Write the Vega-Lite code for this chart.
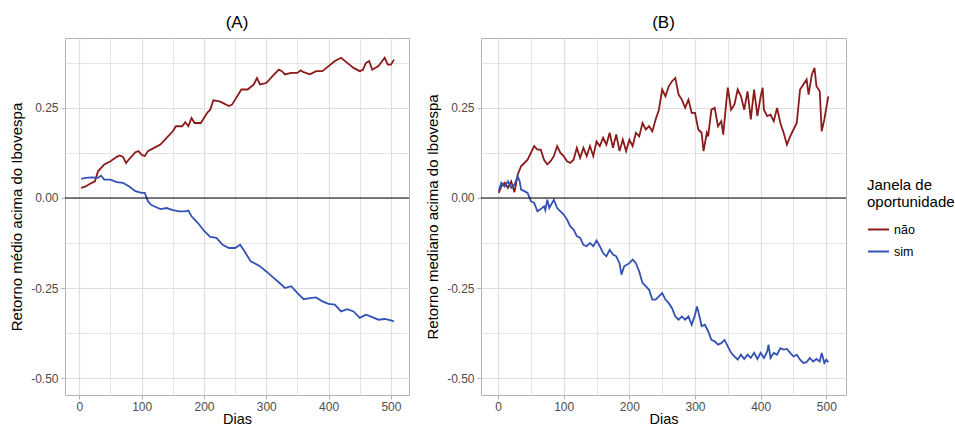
{
  "$schema": "https://vega.github.io/schema/vega-lite/v6.json",
  "padding": {"left": 9, "top": 13, "right": 5, "bottom": 0},
  "background": "white",
  "datasets": {
    "media": [
      {"dia": 3, "janela": "não", "retorno": 0.028}, {"dia": 10, "janela": "não", "retorno": 0.032}, {"dia": 20, "janela": "não", "retorno": 0.042}, {"dia": 25, "janela": "não", "retorno": 0.046},
      {"dia": 30, "janela": "não", "retorno": 0.074}, {"dia": 40, "janela": "não", "retorno": 0.093}, {"dia": 50, "janela": "não", "retorno": 0.102}, {"dia": 60, "janela": "não", "retorno": 0.114},
      {"dia": 65, "janela": "não", "retorno": 0.118}, {"dia": 70, "janela": "não", "retorno": 0.114}, {"dia": 75, "janela": "não", "retorno": 0.097}, {"dia": 80, "janela": "não", "retorno": 0.108},
      {"dia": 90, "janela": "não", "retorno": 0.127}, {"dia": 95, "janela": "não", "retorno": 0.13}, {"dia": 100, "janela": "não", "retorno": 0.12}, {"dia": 105, "janela": "não", "retorno": 0.116},
      {"dia": 110, "janela": "não", "retorno": 0.13}, {"dia": 120, "janela": "não", "retorno": 0.139}, {"dia": 130, "janela": "não", "retorno": 0.148}, {"dia": 140, "janela": "não", "retorno": 0.167},
      {"dia": 150, "janela": "não", "retorno": 0.185}, {"dia": 155, "janela": "não", "retorno": 0.199}, {"dia": 165, "janela": "não", "retorno": 0.199}, {"dia": 170, "janela": "não", "retorno": 0.21},
      {"dia": 175, "janela": "não", "retorno": 0.199}, {"dia": 180, "janela": "não", "retorno": 0.222}, {"dia": 185, "janela": "não", "retorno": 0.208}, {"dia": 195, "janela": "não", "retorno": 0.208},
      {"dia": 200, "janela": "não", "retorno": 0.222}, {"dia": 205, "janela": "não", "retorno": 0.236}, {"dia": 210, "janela": "não", "retorno": 0.245}, {"dia": 215, "janela": "não", "retorno": 0.271},
      {"dia": 225, "janela": "não", "retorno": 0.268}, {"dia": 230, "janela": "não", "retorno": 0.264}, {"dia": 240, "janela": "não", "retorno": 0.255}, {"dia": 245, "janela": "não", "retorno": 0.259},
      {"dia": 250, "janela": "não", "retorno": 0.273}, {"dia": 260, "janela": "não", "retorno": 0.301}, {"dia": 270, "janela": "não", "retorno": 0.301}, {"dia": 280, "janela": "não", "retorno": 0.315},
      {"dia": 285, "janela": "não", "retorno": 0.333}, {"dia": 290, "janela": "não", "retorno": 0.315}, {"dia": 300, "janela": "não", "retorno": 0.319}, {"dia": 310, "janela": "não", "retorno": 0.338},
      {"dia": 320, "janela": "não", "retorno": 0.356}, {"dia": 325, "janela": "não", "retorno": 0.352}, {"dia": 330, "janela": "não", "retorno": 0.343}, {"dia": 340, "janela": "não", "retorno": 0.347},
      {"dia": 350, "janela": "não", "retorno": 0.347}, {"dia": 355, "janela": "não", "retorno": 0.354}, {"dia": 360, "janela": "não", "retorno": 0.349}, {"dia": 370, "janela": "não", "retorno": 0.343},
      {"dia": 380, "janela": "não", "retorno": 0.352}, {"dia": 390, "janela": "não", "retorno": 0.352}, {"dia": 400, "janela": "não", "retorno": 0.366}, {"dia": 410, "janela": "não", "retorno": 0.38},
      {"dia": 420, "janela": "não", "retorno": 0.389}, {"dia": 430, "janela": "não", "retorno": 0.375}, {"dia": 440, "janela": "não", "retorno": 0.361}, {"dia": 450, "janela": "não", "retorno": 0.352},
      {"dia": 455, "janela": "não", "retorno": 0.356}, {"dia": 460, "janela": "não", "retorno": 0.375}, {"dia": 465, "janela": "não", "retorno": 0.38}, {"dia": 470, "janela": "não", "retorno": 0.356},
      {"dia": 480, "janela": "não", "retorno": 0.366}, {"dia": 490, "janela": "não", "retorno": 0.389}, {"dia": 495, "janela": "não", "retorno": 0.37}, {"dia": 500, "janela": "não", "retorno": 0.37},
      {"dia": 505, "janela": "não", "retorno": 0.384},
      {"dia": 3, "janela": "sim", "retorno": 0.053}, {"dia": 10, "janela": "sim", "retorno": 0.056}, {"dia": 20, "janela": "sim", "retorno": 0.057}, {"dia": 30, "janela": "sim", "retorno": 0.056},
      {"dia": 35, "janela": "sim", "retorno": 0.062}, {"dia": 40, "janela": "sim", "retorno": 0.051}, {"dia": 50, "janela": "sim", "retorno": 0.051}, {"dia": 60, "janela": "sim", "retorno": 0.044},
      {"dia": 70, "janela": "sim", "retorno": 0.042}, {"dia": 80, "janela": "sim", "retorno": 0.032}, {"dia": 90, "janela": "sim", "retorno": 0.019}, {"dia": 100, "janela": "sim", "retorno": 0.014},
      {"dia": 105, "janela": "sim", "retorno": 0.014}, {"dia": 110, "janela": "sim", "retorno": -0.009}, {"dia": 115, "janela": "sim", "retorno": -0.019}, {"dia": 120, "janela": "sim", "retorno": -0.023},
      {"dia": 130, "janela": "sim", "retorno": -0.031}, {"dia": 140, "janela": "sim", "retorno": -0.028}, {"dia": 150, "janela": "sim", "retorno": -0.034}, {"dia": 160, "janela": "sim", "retorno": -0.037},
      {"dia": 170, "janela": "sim", "retorno": -0.037}, {"dia": 175, "janela": "sim", "retorno": -0.035}, {"dia": 180, "janela": "sim", "retorno": -0.051}, {"dia": 190, "janela": "sim", "retorno": -0.069},
      {"dia": 200, "janela": "sim", "retorno": -0.091}, {"dia": 210, "janela": "sim", "retorno": -0.108}, {"dia": 220, "janela": "sim", "retorno": -0.111}, {"dia": 230, "janela": "sim", "retorno": -0.13},
      {"dia": 240, "janela": "sim", "retorno": -0.139}, {"dia": 250, "janela": "sim", "retorno": -0.139}, {"dia": 258, "janela": "sim", "retorno": -0.13}, {"dia": 265, "janela": "sim", "retorno": -0.148},
      {"dia": 275, "janela": "sim", "retorno": -0.176}, {"dia": 285, "janela": "sim", "retorno": -0.185}, {"dia": 290, "janela": "sim", "retorno": -0.19}, {"dia": 300, "janela": "sim", "retorno": -0.204},
      {"dia": 310, "janela": "sim", "retorno": -0.219}, {"dia": 320, "janela": "sim", "retorno": -0.234}, {"dia": 330, "janela": "sim", "retorno": -0.25}, {"dia": 340, "janela": "sim", "retorno": -0.245},
      {"dia": 350, "janela": "sim", "retorno": -0.264}, {"dia": 360, "janela": "sim", "retorno": -0.281}, {"dia": 370, "janela": "sim", "retorno": -0.278}, {"dia": 380, "janela": "sim", "retorno": -0.276},
      {"dia": 390, "janela": "sim", "retorno": -0.287}, {"dia": 400, "janela": "sim", "retorno": -0.294}, {"dia": 410, "janela": "sim", "retorno": -0.296}, {"dia": 420, "janela": "sim", "retorno": -0.315},
      {"dia": 430, "janela": "sim", "retorno": -0.309}, {"dia": 440, "janela": "sim", "retorno": -0.315}, {"dia": 450, "janela": "sim", "retorno": -0.333}, {"dia": 460, "janela": "sim", "retorno": -0.324},
      {"dia": 470, "janela": "sim", "retorno": -0.331}, {"dia": 480, "janela": "sim", "retorno": -0.338}, {"dia": 490, "janela": "sim", "retorno": -0.336}, {"dia": 500, "janela": "sim", "retorno": -0.34},
      {"dia": 505, "janela": "sim", "retorno": -0.343}
    ],
    "mediana": [
      {"dia": 1, "janela": "não", "retorno": 0.014}, {"dia": 5, "janela": "não", "retorno": 0.032}, {"dia": 10, "janela": "não", "retorno": 0.042}, {"dia": 15, "janela": "não", "retorno": 0.028},
      {"dia": 20, "janela": "não", "retorno": 0.046}, {"dia": 25, "janela": "não", "retorno": 0.016}, {"dia": 30, "janela": "não", "retorno": 0.065}, {"dia": 35, "janela": "não", "retorno": 0.088},
      {"dia": 40, "janela": "não", "retorno": 0.097}, {"dia": 45, "janela": "não", "retorno": 0.106}, {"dia": 50, "janela": "não", "retorno": 0.125}, {"dia": 55, "janela": "não", "retorno": 0.144},
      {"dia": 60, "janela": "não", "retorno": 0.134}, {"dia": 65, "janela": "não", "retorno": 0.134}, {"dia": 70, "janela": "não", "retorno": 0.106}, {"dia": 75, "janela": "não", "retorno": 0.093},
      {"dia": 80, "janela": "não", "retorno": 0.102}, {"dia": 85, "janela": "não", "retorno": 0.116}, {"dia": 90, "janela": "não", "retorno": 0.144}, {"dia": 95, "janela": "não", "retorno": 0.125},
      {"dia": 100, "janela": "não", "retorno": 0.116}, {"dia": 105, "janela": "não", "retorno": 0.102}, {"dia": 110, "janela": "não", "retorno": 0.097}, {"dia": 115, "janela": "não", "retorno": 0.106},
      {"dia": 120, "janela": "não", "retorno": 0.139}, {"dia": 125, "janela": "não", "retorno": 0.111}, {"dia": 130, "janela": "não", "retorno": 0.139}, {"dia": 135, "janela": "não", "retorno": 0.116},
      {"dia": 140, "janela": "não", "retorno": 0.144}, {"dia": 145, "janela": "não", "retorno": 0.116}, {"dia": 150, "janela": "não", "retorno": 0.157}, {"dia": 155, "janela": "não", "retorno": 0.144},
      {"dia": 160, "janela": "não", "retorno": 0.167}, {"dia": 165, "janela": "não", "retorno": 0.148}, {"dia": 170, "janela": "não", "retorno": 0.181}, {"dia": 175, "janela": "não", "retorno": 0.139},
      {"dia": 180, "janela": "não", "retorno": 0.176}, {"dia": 185, "janela": "não", "retorno": 0.13}, {"dia": 190, "janela": "não", "retorno": 0.162}, {"dia": 195, "janela": "não", "retorno": 0.13},
      {"dia": 200, "janela": "não", "retorno": 0.162}, {"dia": 205, "janela": "não", "retorno": 0.144}, {"dia": 210, "janela": "não", "retorno": 0.181}, {"dia": 215, "janela": "não", "retorno": 0.171},
      {"dia": 220, "janela": "não", "retorno": 0.208}, {"dia": 225, "janela": "não", "retorno": 0.19}, {"dia": 230, "janela": "não", "retorno": 0.199}, {"dia": 235, "janela": "não", "retorno": 0.185},
      {"dia": 240, "janela": "não", "retorno": 0.218}, {"dia": 245, "janela": "não", "retorno": 0.245}, {"dia": 250, "janela": "não", "retorno": 0.301}, {"dia": 255, "janela": "não", "retorno": 0.282},
      {"dia": 260, "janela": "não", "retorno": 0.31}, {"dia": 265, "janela": "não", "retorno": 0.324}, {"dia": 270, "janela": "não", "retorno": 0.333}, {"dia": 275, "janela": "não", "retorno": 0.287},
      {"dia": 280, "janela": "não", "retorno": 0.273}, {"dia": 285, "janela": "não", "retorno": 0.25}, {"dia": 290, "janela": "não", "retorno": 0.273}, {"dia": 295, "janela": "não", "retorno": 0.236},
      {"dia": 300, "janela": "não", "retorno": 0.236}, {"dia": 305, "janela": "não", "retorno": 0.19}, {"dia": 310, "janela": "não", "retorno": 0.181}, {"dia": 313, "janela": "não", "retorno": 0.13},
      {"dia": 318, "janela": "não", "retorno": 0.181}, {"dia": 320, "janela": "não", "retorno": 0.171}, {"dia": 325, "janela": "não", "retorno": 0.245}, {"dia": 330, "janela": "não", "retorno": 0.25},
      {"dia": 335, "janela": "não", "retorno": 0.199}, {"dia": 340, "janela": "não", "retorno": 0.213}, {"dia": 343, "janela": "não", "retorno": 0.176}, {"dia": 348, "janela": "não", "retorno": 0.273},
      {"dia": 350, "janela": "não", "retorno": 0.306}, {"dia": 355, "janela": "não", "retorno": 0.245}, {"dia": 360, "janela": "não", "retorno": 0.259}, {"dia": 365, "janela": "não", "retorno": 0.301},
      {"dia": 370, "janela": "não", "retorno": 0.282}, {"dia": 375, "janela": "não", "retorno": 0.245}, {"dia": 380, "janela": "não", "retorno": 0.296}, {"dia": 385, "janela": "não", "retorno": 0.218},
      {"dia": 390, "janela": "não", "retorno": 0.301}, {"dia": 395, "janela": "não", "retorno": 0.227}, {"dia": 400, "janela": "não", "retorno": 0.282}, {"dia": 403, "janela": "não", "retorno": 0.306},
      {"dia": 405, "janela": "não", "retorno": 0.245}, {"dia": 410, "janela": "não", "retorno": 0.227}, {"dia": 415, "janela": "não", "retorno": 0.231}, {"dia": 420, "janela": "não", "retorno": 0.213},
      {"dia": 425, "janela": "não", "retorno": 0.25}, {"dia": 430, "janela": "não", "retorno": 0.208}, {"dia": 435, "janela": "não", "retorno": 0.181}, {"dia": 440, "janela": "não", "retorno": 0.148},
      {"dia": 445, "janela": "não", "retorno": 0.171}, {"dia": 450, "janela": "não", "retorno": 0.19}, {"dia": 455, "janela": "não", "retorno": 0.208}, {"dia": 460, "janela": "não", "retorno": 0.301},
      {"dia": 465, "janela": "não", "retorno": 0.315}, {"dia": 470, "janela": "não", "retorno": 0.329}, {"dia": 473, "janela": "não", "retorno": 0.287}, {"dia": 478, "janela": "não", "retorno": 0.343},
      {"dia": 482, "janela": "não", "retorno": 0.361}, {"dia": 485, "janela": "não", "retorno": 0.31}, {"dia": 490, "janela": "não", "retorno": 0.296}, {"dia": 493, "janela": "não", "retorno": 0.185},
      {"dia": 497, "janela": "não", "retorno": 0.218}, {"dia": 500, "janela": "não", "retorno": 0.25}, {"dia": 503, "janela": "não", "retorno": 0.282},
      {"dia": 1, "janela": "sim", "retorno": 0.019}, {"dia": 5, "janela": "sim", "retorno": 0.042}, {"dia": 10, "janela": "sim", "retorno": 0.032}, {"dia": 15, "janela": "sim", "retorno": 0.046},
      {"dia": 20, "janela": "sim", "retorno": 0.028}, {"dia": 25, "janela": "sim", "retorno": 0.037}, {"dia": 30, "janela": "sim", "retorno": 0.06}, {"dia": 33, "janela": "sim", "retorno": 0.046},
      {"dia": 35, "janela": "sim", "retorno": 0.023}, {"dia": 40, "janela": "sim", "retorno": 0.019}, {"dia": 45, "janela": "sim", "retorno": 0.014}, {"dia": 50, "janela": "sim", "retorno": -0.009},
      {"dia": 55, "janela": "sim", "retorno": -0.014}, {"dia": 60, "janela": "sim", "retorno": -0.037}, {"dia": 65, "janela": "sim", "retorno": -0.031}, {"dia": 70, "janela": "sim", "retorno": -0.023},
      {"dia": 72, "janela": "sim", "retorno": -0.034}, {"dia": 75, "janela": "sim", "retorno": -0.005}, {"dia": 78, "janela": "sim", "retorno": -0.028}, {"dia": 85, "janela": "sim", "retorno": -0.005},
      {"dia": 90, "janela": "sim", "retorno": -0.028}, {"dia": 95, "janela": "sim", "retorno": -0.037}, {"dia": 100, "janela": "sim", "retorno": -0.046}, {"dia": 105, "janela": "sim", "retorno": -0.06},
      {"dia": 110, "janela": "sim", "retorno": -0.079}, {"dia": 115, "janela": "sim", "retorno": -0.088}, {"dia": 120, "janela": "sim", "retorno": -0.106}, {"dia": 125, "janela": "sim", "retorno": -0.111},
      {"dia": 130, "janela": "sim", "retorno": -0.13}, {"dia": 135, "janela": "sim", "retorno": -0.134}, {"dia": 140, "janela": "sim", "retorno": -0.125}, {"dia": 145, "janela": "sim", "retorno": -0.134},
      {"dia": 150, "janela": "sim", "retorno": -0.118}, {"dia": 155, "janela": "sim", "retorno": -0.134}, {"dia": 160, "janela": "sim", "retorno": -0.153}, {"dia": 165, "janela": "sim", "retorno": -0.162},
      {"dia": 170, "janela": "sim", "retorno": -0.144}, {"dia": 175, "janela": "sim", "retorno": -0.157}, {"dia": 180, "janela": "sim", "retorno": -0.162}, {"dia": 185, "janela": "sim", "retorno": -0.181},
      {"dia": 188, "janela": "sim", "retorno": -0.213}, {"dia": 192, "janela": "sim", "retorno": -0.19}, {"dia": 200, "janela": "sim", "retorno": -0.181}, {"dia": 205, "janela": "sim", "retorno": -0.171},
      {"dia": 210, "janela": "sim", "retorno": -0.181}, {"dia": 215, "janela": "sim", "retorno": -0.204}, {"dia": 220, "janela": "sim", "retorno": -0.236}, {"dia": 225, "janela": "sim", "retorno": -0.245},
      {"dia": 230, "janela": "sim", "retorno": -0.255}, {"dia": 235, "janela": "sim", "retorno": -0.282}, {"dia": 240, "janela": "sim", "retorno": -0.282}, {"dia": 245, "janela": "sim", "retorno": -0.273},
      {"dia": 250, "janela": "sim", "retorno": -0.264}, {"dia": 255, "janela": "sim", "retorno": -0.282}, {"dia": 260, "janela": "sim", "retorno": -0.292}, {"dia": 265, "janela": "sim", "retorno": -0.306},
      {"dia": 270, "janela": "sim", "retorno": -0.329}, {"dia": 275, "janela": "sim", "retorno": -0.338}, {"dia": 280, "janela": "sim", "retorno": -0.329}, {"dia": 285, "janela": "sim", "retorno": -0.338},
      {"dia": 290, "janela": "sim", "retorno": -0.329}, {"dia": 295, "janela": "sim", "retorno": -0.352}, {"dia": 300, "janela": "sim", "retorno": -0.324}, {"dia": 303, "janela": "sim", "retorno": -0.301},
      {"dia": 308, "janela": "sim", "retorno": -0.338}, {"dia": 310, "janela": "sim", "retorno": -0.356}, {"dia": 315, "janela": "sim", "retorno": -0.352}, {"dia": 320, "janela": "sim", "retorno": -0.37},
      {"dia": 325, "janela": "sim", "retorno": -0.394}, {"dia": 330, "janela": "sim", "retorno": -0.398}, {"dia": 335, "janela": "sim", "retorno": -0.407}, {"dia": 340, "janela": "sim", "retorno": -0.403},
      {"dia": 345, "janela": "sim", "retorno": -0.394}, {"dia": 350, "janela": "sim", "retorno": -0.412}, {"dia": 355, "janela": "sim", "retorno": -0.43}, {"dia": 360, "janela": "sim", "retorno": -0.44},
      {"dia": 365, "janela": "sim", "retorno": -0.449}, {"dia": 370, "janela": "sim", "retorno": -0.435}, {"dia": 375, "janela": "sim", "retorno": -0.447}, {"dia": 380, "janela": "sim", "retorno": -0.435},
      {"dia": 385, "janela": "sim", "retorno": -0.444}, {"dia": 390, "janela": "sim", "retorno": -0.43}, {"dia": 395, "janela": "sim", "retorno": -0.447}, {"dia": 400, "janela": "sim", "retorno": -0.43},
      {"dia": 405, "janela": "sim", "retorno": -0.444}, {"dia": 410, "janela": "sim", "retorno": -0.426}, {"dia": 412, "janela": "sim", "retorno": -0.407}, {"dia": 415, "janela": "sim", "retorno": -0.444},
      {"dia": 420, "janela": "sim", "retorno": -0.43}, {"dia": 425, "janela": "sim", "retorno": -0.435}, {"dia": 430, "janela": "sim", "retorno": -0.417}, {"dia": 435, "janela": "sim", "retorno": -0.421},
      {"dia": 440, "janela": "sim", "retorno": -0.419}, {"dia": 445, "janela": "sim", "retorno": -0.43}, {"dia": 450, "janela": "sim", "retorno": -0.44}, {"dia": 455, "janela": "sim", "retorno": -0.435},
      {"dia": 460, "janela": "sim", "retorno": -0.449}, {"dia": 465, "janela": "sim", "retorno": -0.458}, {"dia": 470, "janela": "sim", "retorno": -0.456}, {"dia": 475, "janela": "sim", "retorno": -0.444},
      {"dia": 480, "janela": "sim", "retorno": -0.454}, {"dia": 485, "janela": "sim", "retorno": -0.447}, {"dia": 490, "janela": "sim", "retorno": -0.454}, {"dia": 493, "janela": "sim", "retorno": -0.43},
      {"dia": 497, "janela": "sim", "retorno": -0.458}, {"dia": 500, "janela": "sim", "retorno": -0.449}, {"dia": 503, "janela": "sim", "retorno": -0.456}
    ]
  },
  "spacing": 14,
  "hconcat": [
    {
      "title": {"text": "(A)", "frame": "group"},
      "width": 344,
      "height": 357,
      "data": {"name": "media"},
      "layer": [
        {
          "mark": {"type": "line", "strokeWidth": 1.8},
          "encoding": {
            "x": {
              "field": "dia", "type": "quantitative",
              "scale": {"domain": [-23, 529], "nice": false, "zero": false},
              "axis": {
                "title": "Dias",
                "values": [0, 50, 100, 150, 200, 250, 300, 350, 400, 450, 500],
                "labelExpr": "datum.value % 100 != 0 ? '' : datum.label",
                "tickOpacity": {"condition": {"test": "datum.value % 100 != 0", "value": 0}, "value": 1},
                "gridWidth": {"condition": {"test": "datum.value % 100 != 0", "value": 0.8}, "value": 1.2}
              }
            },
            "y": {
              "field": "retorno", "type": "quantitative",
              "scale": {"domain": [-0.547, 0.444], "nice": false, "zero": false},
              "axis": {
                "title": "Retorno médio acima do Ibovespa",
                "values": [-0.5, -0.375, -0.25, -0.125, 0, 0.125, 0.25, 0.375],
                "labelExpr": "abs(datum.value * 4 - round(datum.value * 4)) > 0.01 ? '' : replace(format(datum.value, '.2f'), '\u2212', '-')",
                "tickOpacity": {"condition": {"test": "abs(datum.value * 4 - round(datum.value * 4)) > 0.01", "value": 0}, "value": 1},
                "gridWidth": {"condition": {"test": "abs(datum.value * 4 - round(datum.value * 4)) > 0.01", "value": 0.8}, "value": 1.2}
              }
            },
            "color": {
              "field": "janela", "type": "nominal",
              "scale": {"domain": ["não", "sim"], "range": ["#8B1A1A", "#3452B4"]},
              "legend": {"title": ["Janela de", "oportunidade"]}
            }
          }
        },
        {
          "data": {"values": [{}]},
          "mark": {"type": "rule", "color": "black", "strokeWidth": 1.1},
          "encoding": {"y": {"datum": 0}}
        }
      ]
    },
    {
      "title": {"text": "(B)", "frame": "group"},
      "width": 365,
      "height": 357,
      "data": {"name": "mediana"},
      "layer": [
        {
          "mark": {"type": "line", "strokeWidth": 1.8},
          "encoding": {
            "x": {
              "field": "dia", "type": "quantitative",
              "scale": {"domain": [-26, 530], "nice": false, "zero": false},
              "axis": {
                "title": "Dias",
                "values": [0, 50, 100, 150, 200, 250, 300, 350, 400, 450, 500],
                "labelExpr": "datum.value % 100 != 0 ? '' : datum.label",
                "tickOpacity": {"condition": {"test": "datum.value % 100 != 0", "value": 0}, "value": 1},
                "gridWidth": {"condition": {"test": "datum.value % 100 != 0", "value": 0.8}, "value": 1.2}
              }
            },
            "y": {
              "field": "retorno", "type": "quantitative",
              "scale": {"domain": [-0.547, 0.444], "nice": false, "zero": false},
              "axis": {
                "title": "Retorno mediano acima do Ibovespa",
                "values": [-0.5, -0.375, -0.25, -0.125, 0, 0.125, 0.25, 0.375],
                "labelExpr": "abs(datum.value * 4 - round(datum.value * 4)) > 0.01 ? '' : replace(format(datum.value, '.2f'), '\u2212', '-')",
                "tickOpacity": {"condition": {"test": "abs(datum.value * 4 - round(datum.value * 4)) > 0.01", "value": 0}, "value": 1},
                "gridWidth": {"condition": {"test": "abs(datum.value * 4 - round(datum.value * 4)) > 0.01", "value": 0.8}, "value": 1.2}
              }
            },
            "color": {
              "field": "janela", "type": "nominal",
              "scale": {"domain": ["não", "sim"], "range": ["#8B1A1A", "#3452B4"]},
              "legend": {"title": ["Janela de", "oportunidade"]}
            }
          }
        },
        {
          "data": {"values": [{}]},
          "mark": {"type": "rule", "color": "black", "strokeWidth": 1.1},
          "encoding": {"y": {"datum": 0}}
        }
      ]
    }
  ],
  "config": {
    "font": "Liberation Sans",
    "view": {"stroke": "#B3B3B3", "strokeWidth": 1},
    "axis": {
      "domain": false,
      "gridColor": "#DEDEDE",
      "tickColor": "#B3B3B3",
      "tickSize": 4,
      "labelColor": "#4D4D4D",
      "labelFontSize": 12,
      "labelPadding": 3,
      "titleFontSize": 15,
      "titleFontWeight": "normal",
      "titleColor": "black",
      "titlePadding": 6
    },
    "axisX": {"labelPadding": 2, "titlePadding": 0, "titleFontSize": 14.5},
    "title": {"fontSize": 17, "fontWeight": "normal", "offset": 6, "color": "black"},
    "legend": {
      "orient": "none",
      "legendX": 802,
      "legendY": 140,
      "padding": 0,
      "symbolType": "stroke",
      "symbolSize": 440,
      "symbolStrokeWidth": 2,
      "titleFontSize": 15,
      "titleFontWeight": "normal",
      "titleColor": "black",
      "titlePadding": 8,
      "labelFontSize": 12.5,
      "labelColor": "black",
      "rowPadding": 4
    }
  }
}
